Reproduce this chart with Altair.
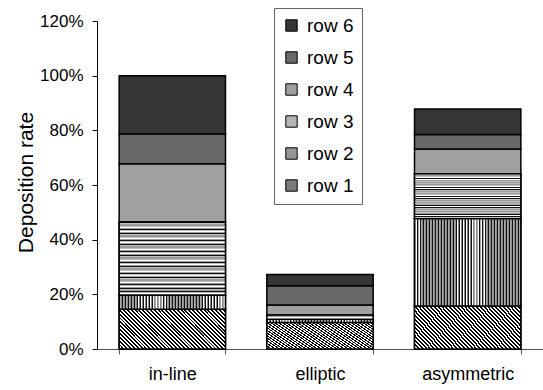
import altair as alt
import pandas as pd

categories = ["in-line", "elliptic", "asymmetric"]
rows = ["row 1", "row 2", "row 3", "row 4", "row 5", "row 6"]
inline_vals = [0.145, 0.052, 0.268, 0.213, 0.109, 0.213]
elliptic_vals = [0.097, 0.012, 0.015, 0.037, 0.070, 0.042]
asym_vals = [0.157, 0.320, 0.164, 0.091, 0.053, 0.093]
y_ticks = [0, 0.2, 0.4, 0.6, 0.8, 1.0, 1.2]

greys = ["#7a7a7a", "#949494", "#b4b4b4", "#a0a0a0", "#686868", "#363636"]

records = []
for cat, vals in zip(categories, [inline_vals, elliptic_vals, asym_vals]):
    for i, (r, v) in enumerate(zip(rows, vals)):
        records.append({"cat": cat, "row": r, "order": i, "value": v})
df = pd.DataFrame(records)


def stripes(n, parts):
    stops = []
    for i in range(n):
        acc = 0.0
        for color, frac in parts:
            a = (i + acc) / n
            acc += frac
            b = (i + acc) / n
            stops.append({"offset": round(min(a, 1.0), 5), "color": color})
            stops.append({"offset": round(min(b, 1.0), 5), "color": color})
    return stops


grad_diag = {"gradient": "linear", "x1": 0, "y1": 1, "x2": 1.205, "y2": 0.554,
             "stops": stripes(38, [("#000000", 0.5), ("#ffffff", 0.5)])}
grad_vert = {"gradient": "linear", "x1": 0, "y1": 0, "x2": 1, "y2": 0,
             "stops": stripes(36, [("#111111", 0.3), ("#a8a8a8", 0.25), ("#ffffff", 0.15), ("#8a8a8a", 0.3)])}
grad_horiz = {"gradient": "linear", "x1": 0, "y1": 0, "x2": 0, "y2": 1,
              "stops": stripes(20, [("#111111", 0.2), ("#bdbdbd", 0.3), ("#ffffff", 0.2), ("#9a9a9a", 0.3)])}

base = alt.Chart(df).transform_stack(
    stack="value", groupby=["cat"], as_=["y0", "y1"],
    sort=[alt.SortField("order", order="ascending")]
)

x_enc = alt.X(
    "cat:N", sort=categories, title=None,
    scale=alt.Scale(paddingInner=0.28, paddingOuter=0.15),
    axis=alt.Axis(labelAngle=0, labelFontSize=18, labelFont="Liberation Sans",
                  labelColor="black", labelPadding=11, tickSize=5,
                  tickBand="extent", domainColor="#555555", tickColor="#555555"),
)
y_enc = alt.Y(
    "y0:Q", title="Deposition rate",
    scale=alt.Scale(domain=[0, 1.2], nice=False),
    axis=alt.Axis(format="%", values=y_ticks, tickSize=5, labelPadding=9,
                  labelFontSize=17, labelFont="Liberation Sans", labelColor="black",
                  domainColor="black", tickColor="black", grid=False,
                  titleFontSize=21, titleFont="Liberation Sans", titleFontWeight="normal",
                  titleColor="black", titleAngle=270, titleX=-65, titleY=161,
                  titleBaseline="alphabetic", titleAlign="center"),
)

bars = base.mark_bar(stroke="black", strokeWidth=1.5).encode(
    x=x_enc,
    y=y_enc,
    y2="y1:Q",
    color=alt.Color(
        "row:N",
        scale=alt.Scale(domain=rows[::-1], range=greys[::-1]),
        legend=alt.Legend(
            title=None, orient="none", legendX=177, legendY=-13,
            symbolType="square", symbolSize=130, symbolStrokeColor="black",
            symbolStrokeWidth=1, labelFontSize=19, labelFont="Liberation Sans",
            labelColor="black", rowPadding=12, padding=8, strokeColor="#666666",
            fillColor="white", labelOffset=6,
        ),
    ),
)

layers = [bars]
for r, g in zip(rows[:3], [grad_diag, grad_vert, grad_horiz]):
    layers.append(
        base.transform_filter(alt.datum.row == r)
        .mark_bar(fill=g, stroke="black", strokeWidth=1.5)
        .encode(x=alt.X("cat:N", sort=categories, title=None),
                y=alt.Y("y0:Q", title="Deposition rate"),
                y2="y1:Q")
    )

chart = alt.layer(*layers).properties(
    width=446, height=328,
    autosize=alt.AutoSizeParams(type="none"),
    padding={"left": 97, "top": 21, "right": 0, "bottom": 41},
    background="white",
).configure_view(stroke=None)

chart.save("out.html", embed_options={"renderer": "svg", "actions": False})
